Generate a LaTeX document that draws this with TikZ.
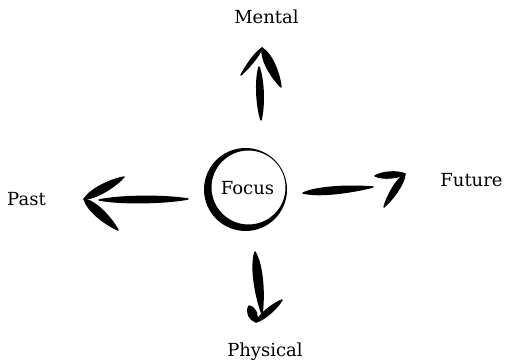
\documentclass[tikz,border=0pt]{standalone}
\usepackage{fontspec}
\setmainfont{DejaVu Serif}
\usetikzlibrary{calc}
% brush stroke from #1 to #2, half-widths (control offsets) #3 near #1 and #4 near #2
\newcommand\brushstroke[4]{%
  \filldraw[line width=1.4pt,line join=round] (#1) .. controls ($(#1)!0.25!(#2)!#3!90:(#2)$) and ($(#1)!0.75!(#2)!#4!90:(#2)$) .. (#2)
             .. controls ($(#1)!0.75!(#2)!#4!-90:(#2)$) and ($(#1)!0.25!(#2)!#3!-90:(#2)$) .. (#1) -- cycle;}
\begin{document}
\begin{tikzpicture}[x=1pt,y=-1pt,
  lbl/.style={anchor=base,inner sep=0pt,font=\fontsize{18}{22}\selectfont}]
\useasboundingbox (0,0) rectangle (505,363);
% labels
\node[lbl] (mental) at (266.5,24) {Mental};
\node[lbl] (physical) at (265,356) {Physical};
\node[lbl] (past) at (26.5,205) {Past};
\node[lbl] (future) at (471.5,186) {Future};
\node[lbl] (focus) at (247.5,195) {Focus};
% brush circle
\fill[even odd rule] (245.5,189.5) circle[radius=41.5pt] (248.5,187.5) circle[radius=37pt];
% up arrow
\coordinate (u1) at (259,67); \coordinate (u2) at (261,120);
\coordinate (uh1) at (241,75); \coordinate (ua) at (262,48); \coordinate (uh2) at (281,87);
\brushstroke{u1}{u2}{4.5pt}{4pt}
\brushstroke{uh1}{ua}{1.5pt}{3pt}
\brushstroke{ua}{uh2}{7pt}{4pt}
% down arrow
\coordinate (d1) at (255,252); \coordinate (d2) at (262,314);
\coordinate (dh1) at (249,306); \coordinate (da) at (256,322); \coordinate (dh2) at (282,300);
\brushstroke{d1}{d2}{7pt}{4pt}
\brushstroke{dh1}{da}{6pt}{5pt}
\brushstroke{da}{dh2}{4pt}{3pt}
% left arrow
\coordinate (l1) at (99,200); \coordinate (l2) at (188,199);
\coordinate (lh1) at (124,177); \coordinate (la) at (84,199); \coordinate (lh2) at (118,230);
\brushstroke{l1}{l2}{4.5pt}{4pt}
\brushstroke{lh1}{la}{4pt}{6pt}
\brushstroke{la}{lh2}{7pt}{4pt}
% right arrow
\coordinate (r1) at (303,193); \coordinate (r2) at (373,187);
\coordinate (rh1) at (375,176); \coordinate (ra) at (405,174); \coordinate (rh2) at (384,207);
\brushstroke{r1}{r2}{6pt}{3pt}
\brushstroke{rh1}{ra}{4pt}{4pt}
\brushstroke{ra}{rh2}{5pt}{3pt}
\end{tikzpicture}
\end{document}
